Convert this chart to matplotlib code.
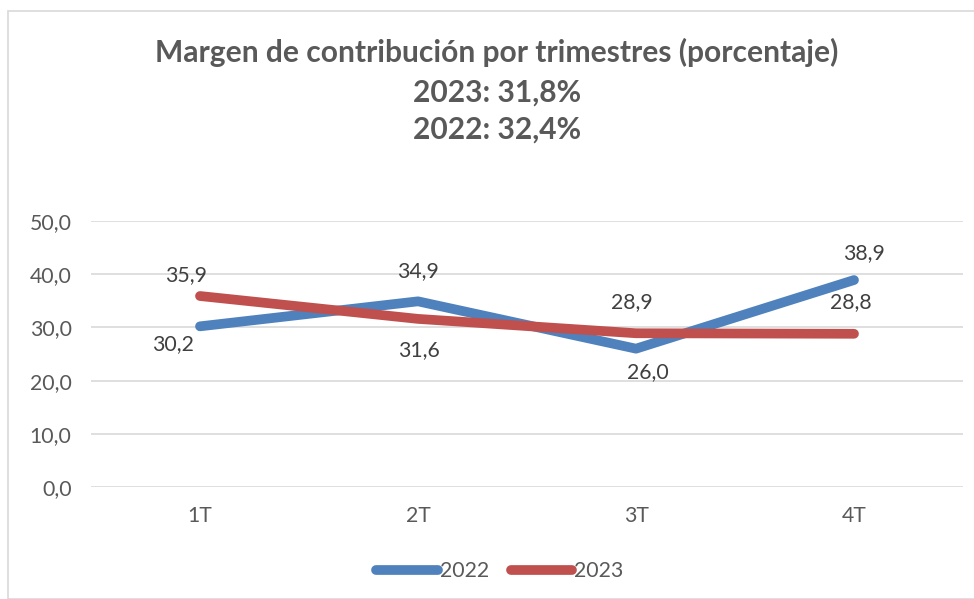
import matplotlib
matplotlib.use("Agg")
import matplotlib.pyplot as plt
from matplotlib.patches import Rectangle

categories = ["1T", "2T", "3T", "4T"]
v2022 = [30.2, 34.9, 26.0, 38.9]
v2023 = [35.9, 31.6, 28.9, 28.8]
lab2022 = ["30,2", "34,9", "26,0", "38,9"]
lab2023 = ["35,9", "31,6", "28,9", "28,8"]
yticks = [0, 10, 20, 30, 40, 50]
ytick_labels = ["0,0", "10,0", "20,0", "30,0", "40,0", "50,0"]

W, H = 974, 599
fig = plt.figure(figsize=(W/100, H/100), dpi=100)
fig.patch.set_facecolor("white")
fig.add_artist(Rectangle((8/W, 0), 1.2, 1-11/H, transform=fig.transFigure,
                         fill=False, edgecolor="#D9D9D9", lw=1.2))

ax = fig.add_axes([91/W, 1-487/H, (963-91)/W, (487-221)/H])
x = list(range(len(categories)))
blue = "#4F81BD"
red = "#C0504D"
txt = "#595959"
font = ["Lato", "DejaVu Sans"]
body = ["Lato", "DejaVu Sans"]
fs = 15.3

ax.plot(x, v2022, color=blue, lw=7, solid_capstyle="round", solid_joinstyle="round", label="2022", zorder=3)
ax.plot(x, v2023, color=red, lw=7, solid_capstyle="round", solid_joinstyle="round", label="2023", zorder=4)
ax.set_xlim(-0.5, 3.5)
ax.set_ylim(0, 50)
ax.set_yticks(yticks)
ax.set_yticklabels(ytick_labels)
ax.set_xticks(x)
ax.set_xticklabels(categories)
for s in ax.spines.values():
    s.set_visible(False)
ax.grid(axis="y", color="#D9D9D9", lw=1.2)
ax.set_axisbelow(True)
ax.tick_params(length=0, labelsize=fs, colors=txt, pad=14)
ax.tick_params(axis="x", pad=14)
for t in ax.get_xticklabels() + ax.get_yticklabels():
    t.set_family(body)

# label offsets in pixels (dx, dy up)
off2022 = [(-27, -18), (0, 30), (12, -23), (10, 27)]
off2023 = [(-14, 21), (1, -31), (-4, 31), (-3, 32)]
for i in x:
    for vals, labs, offs in ((v2022, lab2022, off2022), (v2023, lab2023, off2023)):
        ax.annotate(labs[i], (i, vals[i]), xytext=(offs[i][0]*0.72, offs[i][1]*0.72),
                    textcoords="offset points", ha="center", va="center", fontsize=fs,
                    color="#404040", family=body, zorder=6)

for yy, s in ((52, "Margen de contribución por trimestres (porcentaje)"),
              (93, "2023: 31,8%"), (130, "2022: 32,4%")):
    fig.text(497/W, 1-yy/H, s, ha="center", va="center",
             fontsize=21.6, fontweight="bold", color=txt, family=font)

leg = fig.legend(loc="center", bbox_to_anchor=(500/W, 1-571/H), ncol=2, frameon=False,
                 prop={"family": body, "size": fs}, handlelength=2.9, handletextpad=0.1,
                 columnspacing=1.0)
for t in leg.get_texts():
    t.set_color(txt)

fig.savefig("out.png", dpi=100)
